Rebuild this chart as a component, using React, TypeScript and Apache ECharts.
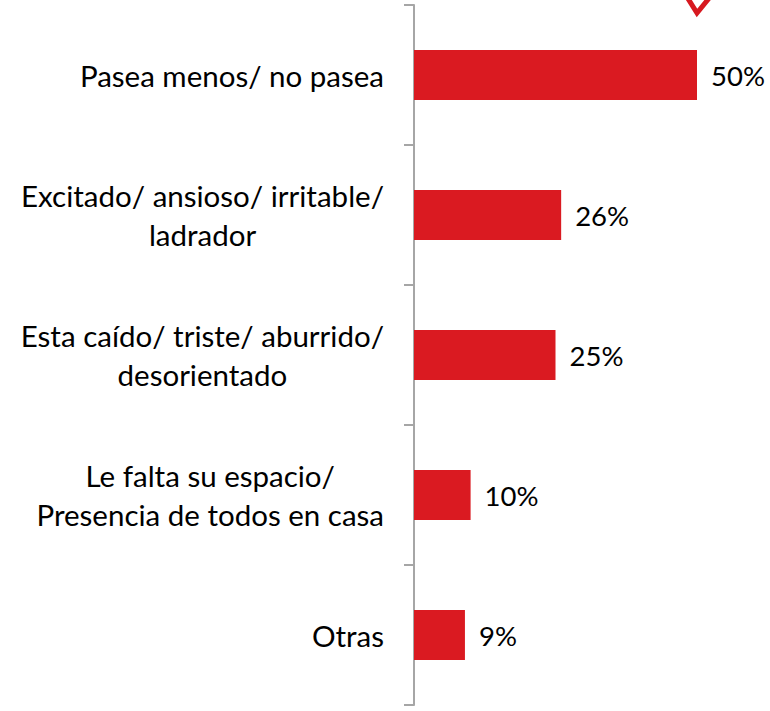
import React, { useEffect, useRef } from "react";
import * as echarts from "echarts";

const categories = [
  "Pasea menos/ no pasea",
  "Excitado/ ansioso/ irritable/\nladrador",
  "Esta caído/ triste/ aburrido/\ndesorientado",
  "Le falta su espacio/\nPresencia de todos en casa",
  "Otras",
];
const values = [50, 26, 25, 10, 9];

const FONT = "Lato, 'Noto Sans', sans-serif";
const RED = "#da1a21";

export default function App() {
  const ref = useRef<HTMLDivElement>(null);
  useEffect(() => {
    if (!ref.current) return;
    const chart = echarts.init(ref.current, undefined, { renderer: "svg" });
    chart.setOption({
      animation: false,
      backgroundColor: "#ffffff",
      grid: { left: 414, right: 73, top: 5, bottom: 6, containLabel: false },
      xAxis: {
        type: "value",
        min: 0,
        max: 50,
        show: false,
      },
      yAxis: {
        type: "category",
        inverse: true,
        data: categories,
        axisLine: { show: true, lineStyle: { color: "#a6a6a6", width: 2 } },
        axisTick: { show: true, length: 10, lineStyle: { color: "#a6a6a6", width: 2 } },
        axisLabel: {
          margin: 30,
          formatter: (v: string) =>
            v.split("\n").map((l) => `{c|${l}}`).join("\n"),
          rich: {
            c: {
              align: "center",
              fontSize: 29.5,
              fontFamily: FONT,
              color: "#000",
              lineHeight: 39,
            },
          },
        },
        splitLine: { show: false },
      },
      series: [
        {
          type: "bar",
          data: values,
          barWidth: 50,
          itemStyle: { color: RED },
          label: {
            show: true,
            position: "right",
            distance: 14,
            formatter: "{c}%",
            fontSize: 27.5,
            fontFamily: FONT,
            color: "#000",
          },
        },
      ],
      graphic: [
        {
          type: "polyline",
          shape: { points: [[687, -3], [697, 13], [710, -3]] },
          style: { stroke: "#d71920", lineWidth: 5, fill: "none" },
        },
      ],
    });
    return () => chart.dispose();
  }, []);
  return (
    <div
      ref={ref}
      style={{ position: "fixed", left: 0, top: 0, width: 770, height: 711 }}
    />
  );
}
